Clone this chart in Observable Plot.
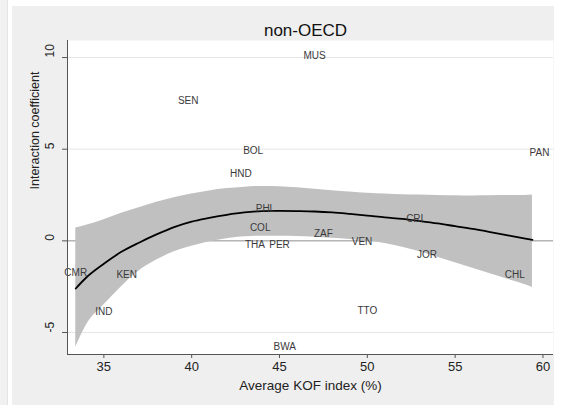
<!DOCTYPE html>
<html>
<head>
<meta charset="utf-8">
<script src="https://cdn.jsdelivr.net/npm/d3@7"></script>
<script src="https://cdn.jsdelivr.net/npm/@observablehq/plot@0.6"></script>
<style>
  html, body { margin: 0; padding: 0; background: #fff; }
  #wrap { position: relative; width: 564px; height: 405px; overflow: hidden; font-family: "Liberation Sans", Arial, sans-serif; }
  #strip { position: absolute; left: 0; top: 0; width: 7px; height: 405px; background: #f1f1f1; border-right: 1px solid #e4e4e4; }
  #panel { position: absolute; left: 12px; top: 6px; width: 542px; height: 399px; background: #efefef; }
  #chart { position: absolute; left: 0; top: 0; }
</style>
</head>
<body>
<div id="wrap"><div id="strip"></div><div id="panel"></div><div id="chart"></div></div>
<script>
// Country labels placed at (average KOF index, interaction coefficient)
const countries = ["MUS","SEN","BOL","HND","PAN","PHL","COL","ZAF","CRI","THA","PER","VEN","JOR","CHL","CMR","KEN","IND","TTO","BWA"];
const kof       = [47.0, 39.8, 43.5, 42.8, 59.8, 44.2, 43.9, 47.5, 52.7, 43.6, 45.0, 49.7, 53.4, 58.4, 33.4, 36.3, 35.0, 50.0, 45.3];
const coef      = [10.1, 7.65, 4.9, 3.65, 4.8, 1.75, 0.7, 0.4, 1.2, -0.2, -0.2, -0.05, -0.75, -1.85, -1.75, -1.85, -3.85, -3.8, -5.8];

// Fitted interaction curve with its confidence band
const fitX     = [33.4, 34, 35, 36, 37, 38, 39, 40, 41, 42, 43, 44, 45, 46, 47, 48, 49, 50, 51, 52, 53, 54, 55, 56, 57, 58, 59, 59.4];
const fitY     = [-2.6, -2.0, -1.25, -0.6, -0.1, 0.35, 0.75, 1.05, 1.25, 1.42, 1.55, 1.62, 1.63, 1.62, 1.6, 1.55, 1.47, 1.38, 1.28, 1.2, 1.08, 0.95, 0.8, 0.65, 0.48, 0.3, 0.12, 0.05];
const fitLower = [-5.8, -4.6, -3.5, -2.5, -1.65, -1.05, -0.6, -0.3, -0.05, 0.12, 0.22, 0.25, 0.25, 0.24, 0.2, 0.14, 0.08, 0.0, -0.15, -0.35, -0.6, -0.9, -1.2, -1.5, -1.8, -2.1, -2.4, -2.55];
const fitUpper = [0.7, 0.85, 1.15, 1.5, 1.8, 2.1, 2.35, 2.55, 2.72, 2.85, 2.93, 2.97, 2.95, 2.9, 2.82, 2.74, 2.67, 2.6, 2.56, 2.52, 2.5, 2.48, 2.46, 2.45, 2.46, 2.47, 2.48, 2.5];

const xTicks = [35, 40, 45, 50, 55, 60];
const yTicks = [-5, 0, 5, 10];
const yGrid  = [-5, 5, 10];
const xDomain = [32.93, 60.6];
const yDomain = [-6.2, 10.93];

const title  = "non-OECD";
const xTitle = "Average KOF index (%)";
const yTitle = "Interaction coefficient";

const labels = countries.map((c, i) => ({c, x: kof[i], y: coef[i]}));
const fit = fitX.map((x, i) => ({x, y: fitY[i], lo: fitLower[i], hi: fitUpper[i]}));

const chart = Plot.plot({
  width: 564,
  height: 405,
  marginLeft: 67,
  marginRight: 11,
  marginTop: 40,
  marginBottom: 51,
  style: {background: "transparent", fontFamily: "'Liberation Sans', Arial, sans-serif", color: "#222"},
  x: {domain: xDomain},
  y: {domain: yDomain},
  marks: [
    Plot.frame({fill: "white", stroke: null}),
    Plot.ruleY(yGrid, {stroke: "#e6e6e6", strokeWidth: 1}),
    Plot.ruleY([0], {stroke: "#8f8f8f", strokeWidth: 1}),
    Plot.areaY(fit, {x: "x", y1: "lo", y2: "hi", fill: "#c0c0c0", curve: "monotone-x"}),
    Plot.line(fit, {x: "x", y: "y", stroke: "#000", strokeWidth: 1.8, curve: "monotone-x"}),
    Plot.text(labels, {x: "x", y: "y", text: "c", fontSize: 10, fill: "#3a3a3a"}),
    Plot.ruleX([xDomain[0]], {stroke: "#555", strokeWidth: 1}),
    Plot.ruleY([yDomain[0]], {stroke: "#555", strokeWidth: 1}),
    Plot.axisX(xTicks, {tickSize: 4, tickPadding: 3, fontSize: 13, label: null, stroke: "#555", fill: "#222"}),
    Plot.axisY(yTicks, {tickSize: 5, text: null, label: null, stroke: "#555"}),
    // vertical tick labels beside the y axis
    Plot.text(yTicks, {y: d => d, text: d => String(d), frameAnchor: "left", dx: -17, rotate: -90, fontSize: 12, fill: "#222"}),
    Plot.text([title], {frameAnchor: "top", dy: -17, dx: -5, fontSize: 17, fill: "#111"}),
    Plot.text([xTitle], {frameAnchor: "bottom", dy: 35, fontSize: 13.5, fill: "#222"}),
    Plot.text([yTitle], {frameAnchor: "left", dx: -33, dy: -8, rotate: -90, fontSize: 12.5, fill: "#222"})
  ]
});
document.getElementById("chart").appendChild(chart);
</script>
</body>
</html>
